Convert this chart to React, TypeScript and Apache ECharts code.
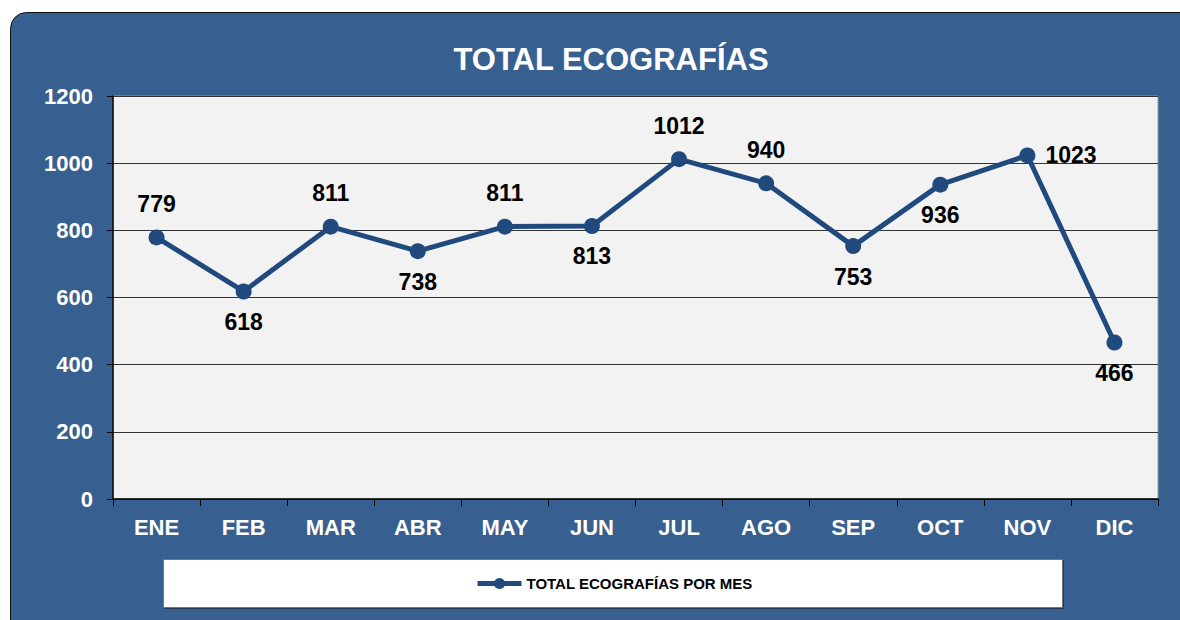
import React, { useEffect, useRef } from "react";
import * as echarts from "echarts";

const months = ["ENE", "FEB", "MAR", "ABR", "MAY", "JUN", "JUL", "AGO", "SEP", "OCT", "NOV", "DIC"];
const totals = [779, 618, 811, 738, 811, 813, 1012, 940, 753, 936, 1023, 466];
const labelPositions = ["top", "bottom", "top", "bottom", "top", "bottom", "top", "top", "bottom", "bottom", "right", "bottom"];
const yTicks = [0, 200, 400, 600, 800, 1000, 1200];
const seriesName = "TOTAL ECOGRAFÍAS POR MES";
const titleText = "TOTAL ECOGRAFÍAS";

const FONT = "'Liberation Sans', Arial, sans-serif";

export default function App() {
  const ref = useRef<HTMLDivElement>(null);
  useEffect(() => {
    document.body.style.margin = "0";
    const chart = echarts.init(ref.current!, null, { renderer: "svg" });
    const data = totals.map((v, i) => {
      const pos = labelPositions[i];
      return {
        value: v,
        label: {
          position: pos,
          distance: pos === "top" ? 14 : pos === "bottom" ? 11 : 10,
        },
      };
    });
    chart.setOption({
      animation: false,
      backgroundColor: "#ffffff",
      textStyle: { fontFamily: FONT },
      graphic: [
        {
          type: "rect",
          z: -10,
          silent: true,
          shape: { x: 10.5, y: 12.5, width: 1190, height: 630, r: 16 },
          style: { fill: "#375f8f", stroke: "#111", lineWidth: 1 },
        },
        {
          type: "rect",
          z: -5,
          silent: true,
          shape: { x: 163.5, y: 559.5, width: 899, height: 48 },
          style: { fill: "#ffffff", stroke: "#777", lineWidth: 1, shadowColor: "rgba(0,0,0,0.4)", shadowOffsetX: 1, shadowOffsetY: 1, shadowBlur: 1 },
        },
      ],
      title: {
        text: titleText,
        left: 606,
        textAlign: "center",
        top: 39,
        textStyle: { color: "#ffffff", fontSize: 31, fontWeight: "bold", fontFamily: FONT },
      },
      legend: {
        left: 475,
        top: 576,
        padding: 0,
        itemWidth: 44,
        itemHeight: 14,
        itemGap: 4,
        lineStyle: { width: 5 },
        textStyle: { color: "#000", fontSize: 15, fontWeight: "bold", fontFamily: FONT },
        data: [seriesName],
      },
      grid: {
        left: 113,
        right: 22,
        top: 96,
        bottom: 121,
        show: true,
        backgroundColor: "#f2f2f2",
        borderColor: "#9a9a9a",
        borderWidth: 1,
      },
      xAxis: {
        type: "category",
        data: months,
        boundaryGap: true,
        axisLine: { lineStyle: { color: "#000", width: 1.5 } },
        axisTick: { show: true, length: 7, lineStyle: { color: "#000" } },
        axisLabel: { color: "#fff", fontSize: 22, fontWeight: "bold", margin: 17, fontFamily: FONT },
      },
      yAxis: {
        type: "value",
        min: yTicks[0],
        max: yTicks[yTicks.length - 1],
        interval: 200,
        axisLine: { show: true, lineStyle: { color: "#000", width: 1.5 } },
        axisTick: { show: true, length: 6, lineStyle: { color: "#000" } },
        axisLabel: { color: "#fff", fontSize: 22, fontWeight: "bold", margin: 20, fontFamily: FONT, formatter: (v: number) => String(v) },
        splitLine: { lineStyle: { color: "#333", width: 1 } },
      },
      series: [
        {
          name: seriesName,
          type: "line",
          data,
          symbol: "circle",
          symbolSize: 16,
          itemStyle: { color: "#204a7e" },
          lineStyle: { color: "#204a7e", width: 5 },
          label: {
            show: true,
            color: "#000",
            fontSize: 23,
            fontWeight: "bold",
            fontFamily: FONT,
          },
        },
      ],
    });
    return () => chart.dispose();
  }, []);
  return <div ref={ref} style={{ width: 1180, height: 620 }} />;
}
